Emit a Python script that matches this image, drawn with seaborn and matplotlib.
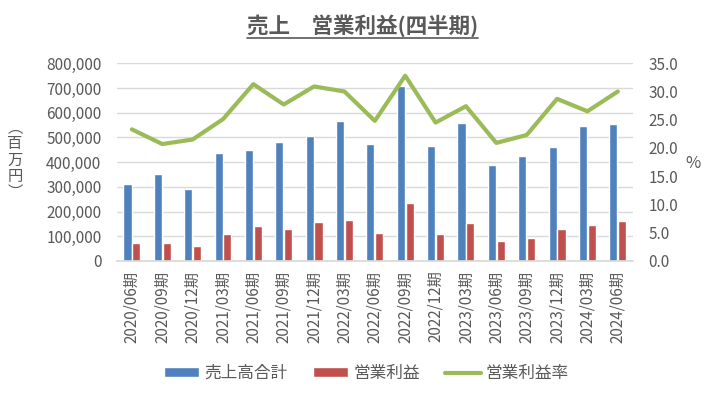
import numpy as np
import pandas as pd
import seaborn as sns
import matplotlib.pyplot as plt
from matplotlib.lines import Line2D

periods = ["2020/06期", "2020/09期", "2020/12期", "2021/03期", "2021/06期", "2021/09期",
           "2021/12期", "2022/03期", "2022/06期", "2022/09期", "2022/12期", "2023/03期",
           "2023/06期", "2023/09期", "2023/12期", "2024/03期", "2024/06期"]
sales = [311000, 351000, 290000, 435000, 451000, 480000, 505000, 565000, 473000,
         709000, 465000, 557000, 388000, 424000, 461000, 546000, 554000]
op_income = [72000, 72000, 60000, 108000, 141000, 128000, 156000, 165000, 115000,
             233000, 111000, 152000, 79000, 92000, 128000, 145000, 161000]
op_margin = [23.3, 20.7, 21.5, 25.1, 31.3, 27.7, 30.9, 30.0, 24.8,
             32.8, 24.5, 27.4, 20.9, 22.3, 28.7, 26.5, 30.0]

grey = "#595959"
colors = {"売上高合計": "#4F81BD", "営業利益": "#C0504D"}

df = pd.DataFrame({"期": periods, "売上高合計": sales, "営業利益": op_income})
long = df.melt(id_vars="期", var_name="項目", value_name="金額")

sns.set_theme(style="white")
plt.rcParams["font.family"] = ["Noto Sans CJK JP", "DejaVu Sans"]

fig = plt.figure(figsize=(7.18, 3.93), dpi=100)
ax = fig.add_axes([0.1625, 0.336, 0.7191, 0.503])

sns.barplot(data=long, x="期", y="金額", hue="項目", palette=colors,
            width=0.58, gap=0.08, ax=ax, saturation=1)
handles, labels = ax.get_legend_handles_labels()
ax.get_legend().remove()

ax.set_ylim(0, 800000)
ax.set_yticks(np.arange(0, 800001, 100000))
ax.set_yticklabels([f"{v:,}" for v in range(0, 800001, 100000)])
ax.set_xlim(-0.5, len(periods) - 0.5)
ax.set_xlabel("")
ax.set_ylabel("")
ax.yaxis.grid(True, color="#D9D9D9", linewidth=1)
ax.set_axisbelow(True)
for s in ["top", "left", "right"]:
    ax.spines[s].set_visible(False)
ax.spines["bottom"].set_color("#D9D9D9")
ax.tick_params(axis="x", labelrotation=90, labelsize=11, colors=grey, length=0, pad=7)
ax.tick_params(axis="y", labelsize=11, colors=grey, length=0, pad=11)

ax2 = ax.twinx()
sns.lineplot(x=np.arange(len(periods)), y=op_margin, color="#9BBB59", linewidth=3,
             ax=ax2, label="営業利益率", legend=False)
ax2.set_ylim(0, 35)
ax2.set_yticks(np.arange(0, 35.1, 5))
ax2.set_yticklabels([f"{v:.1f}" for v in np.arange(0, 35.1, 5)])
ax2.tick_params(axis="y", labelsize=11, colors=grey, length=0, pad=11)
for s in ax2.spines.values():
    s.set_visible(False)
ax2.grid(False)

handles.append(Line2D([], [], color="#9BBB59", linewidth=3))
labels.append("営業利益率")
fig.legend(handles, labels, loc="center", bbox_to_anchor=(0.51, 0.05), ncol=3,
           frameon=False, fontsize=12, labelcolor=grey, handlelength=2.15,
           handleheight=0.5, columnspacing=1.5, handletextpad=0.3)

fig.text(0.021, 0.593, "︵\n百\n万\n円\n︶", ha="center", va="center",
         fontsize=11, color=grey, linespacing=0.95)
fig.text(0.965, 0.585, "%", ha="center", va="center", fontsize=12, color=grey)

title = fig.text(0.505, 0.936, "売上　営業利益(四半期)", ha="center", va="center",
                 fontsize=15.5, fontweight="bold", color=grey)
fig.canvas.draw()
bb = title.get_window_extent(fig.canvas.get_renderer()).transformed(fig.transFigure.inverted())
fig.add_artist(Line2D([bb.x0, bb.x1], [bb.y0 - 0.004, bb.y0 - 0.004],
                      color=grey, linewidth=1.2, transform=fig.transFigure))

fig.savefig("out.png", dpi=100)
